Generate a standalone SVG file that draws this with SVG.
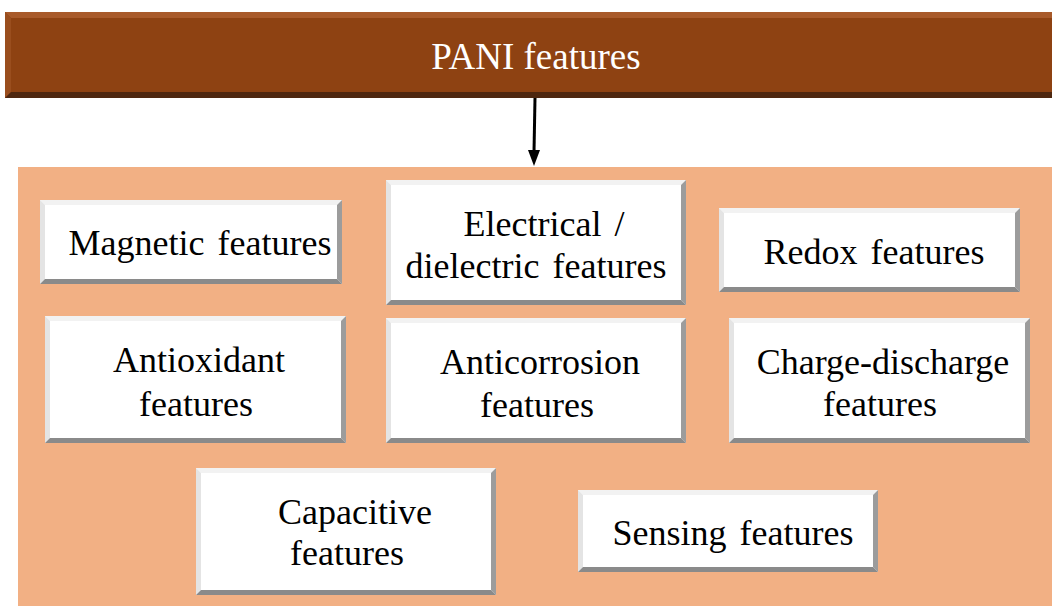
<svg xmlns="http://www.w3.org/2000/svg" width="1052" height="606" viewBox="0 0 1052 606">
<defs>
<style>
.t{font-family:"Liberation Serif","Times New Roman",serif;font-size:36px;fill:#000;text-anchor:middle;word-spacing:4px}
.h{font-family:"Liberation Serif","Times New Roman",serif;font-size:37px;fill:#fff;text-anchor:middle}
.face{fill:#fff}
.bt{fill:#f2f2f2}
.bl{fill:#e4e4e4}
.br{fill:#9c9c9c}
.bb{fill:#8a8a8a}
</style>
</defs>
<rect x="0" y="0" width="1052" height="606" fill="#fff"/>
<g id="panel">
<rect x="18" y="167" width="1034" height="439" fill="#f2b084"/>
</g>
<g id="pani">
<rect x="5" y="12" width="1047" height="86" fill="#8e4212"/>
<polygon points="5,12 1052,12 1052,18 11,18" fill="#a85a2a"/>
<polygon points="5,12 11,18 11,92 5,98" fill="#9a4e1e"/>
<polygon points="5,98 1052,98 1052,92 11,92" fill="#4e2710"/>
<text class="h" x="536" y="69">PANI features</text>
</g>
<g id="connectors">
<line x1="535" y1="98" x2="534" y2="152" stroke="#000" stroke-width="3"/>
<polygon points="528,150 540,150 534,166" fill="#000"/>
</g>
<g id="magnetic">
<rect class="face" x="40" y="200" width="302" height="84"/>
<polygon class="bt" points="40,200 342,200 337,205 45,205"/>
<polygon class="bl" points="40,200 45,205 45,279 40,284"/>
<polygon class="br" points="342,200 342,284 337,279 337,205"/>
<polygon class="bb" points="40,284 342,284 337,279 45,279"/>
<text class="t" x="200" y="255">Magnetic features</text>
</g>
<g id="electrical">
<rect class="face" x="386" y="180" width="300" height="125"/>
<polygon class="bt" points="386,180 686,180 681,185 391,185"/>
<polygon class="bl" points="386,180 391,185 391,300 386,305"/>
<polygon class="br" points="686,180 686,305 681,300 681,185"/>
<polygon class="bb" points="386,305 686,305 681,300 391,300"/>
<text class="t" x="544" y="236">Electrical /</text>
<text class="t" x="536" y="278">dielectric features</text>
</g>
<g id="redox">
<rect class="face" x="719" y="208" width="301" height="84"/>
<polygon class="bt" points="719,208 1020,208 1015,213 724,213"/>
<polygon class="bl" points="719,208 724,213 724,287 719,292"/>
<polygon class="br" points="1020,208 1020,292 1015,287 1015,213"/>
<polygon class="bb" points="719,292 1020,292 1015,287 724,287"/>
<text class="t" x="874" y="264">Redox features</text>
</g>
<g id="antioxidant">
<rect class="face" x="45" y="316" width="301" height="127"/>
<polygon class="bt" points="45,316 346,316 341,321 50,321"/>
<polygon class="bl" points="45,316 50,321 50,438 45,443"/>
<polygon class="br" points="346,316 346,443 341,438 341,321"/>
<polygon class="bb" points="45,443 346,443 341,438 50,438"/>
<text class="t" x="199" y="372">Antioxidant</text>
<text class="t" x="196" y="416">features</text>
</g>
<g id="anticorrosion">
<rect class="face" x="386" y="318" width="300" height="125"/>
<polygon class="bt" points="386,318 686,318 681,323 391,323"/>
<polygon class="bl" points="386,318 391,323 391,438 386,443"/>
<polygon class="br" points="686,318 686,443 681,438 681,323"/>
<polygon class="bb" points="386,443 686,443 681,438 391,438"/>
<text class="t" x="540" y="374">Anticorrosion</text>
<text class="t" x="537" y="417">features</text>
</g>
<g id="charge">
<rect class="face" x="729" y="318" width="301" height="125"/>
<polygon class="bt" points="729,318 1030,318 1025,323 734,323"/>
<polygon class="bl" points="729,318 734,323 734,438 729,443"/>
<polygon class="br" points="1030,318 1030,443 1025,438 1025,323"/>
<polygon class="bb" points="729,443 1030,443 1025,438 734,438"/>
<text class="t" x="883" y="374">Charge-discharge</text>
<text class="t" x="880" y="416">features</text>
</g>
<g id="capacitive">
<rect class="face" x="196" y="468" width="300" height="127"/>
<polygon class="bt" points="196,468 496,468 491,473 201,473"/>
<polygon class="bl" points="196,468 201,473 201,590 196,595"/>
<polygon class="br" points="496,468 496,595 491,590 491,473"/>
<polygon class="bb" points="196,595 496,595 491,590 201,590"/>
<text class="t" x="355" y="524">Capacitive</text>
<text class="t" x="347" y="565">features</text>
</g>
<g id="sensing">
<rect class="face" x="578" y="490" width="300" height="82"/>
<polygon class="bt" points="578,490 878,490 873,495 583,495"/>
<polygon class="bl" points="578,490 583,495 583,567 578,572"/>
<polygon class="br" points="878,490 878,572 873,567 873,495"/>
<polygon class="bb" points="578,572 878,572 873,567 583,567"/>
<text class="t" x="733" y="545">Sensing features</text>
</g>
</svg>
